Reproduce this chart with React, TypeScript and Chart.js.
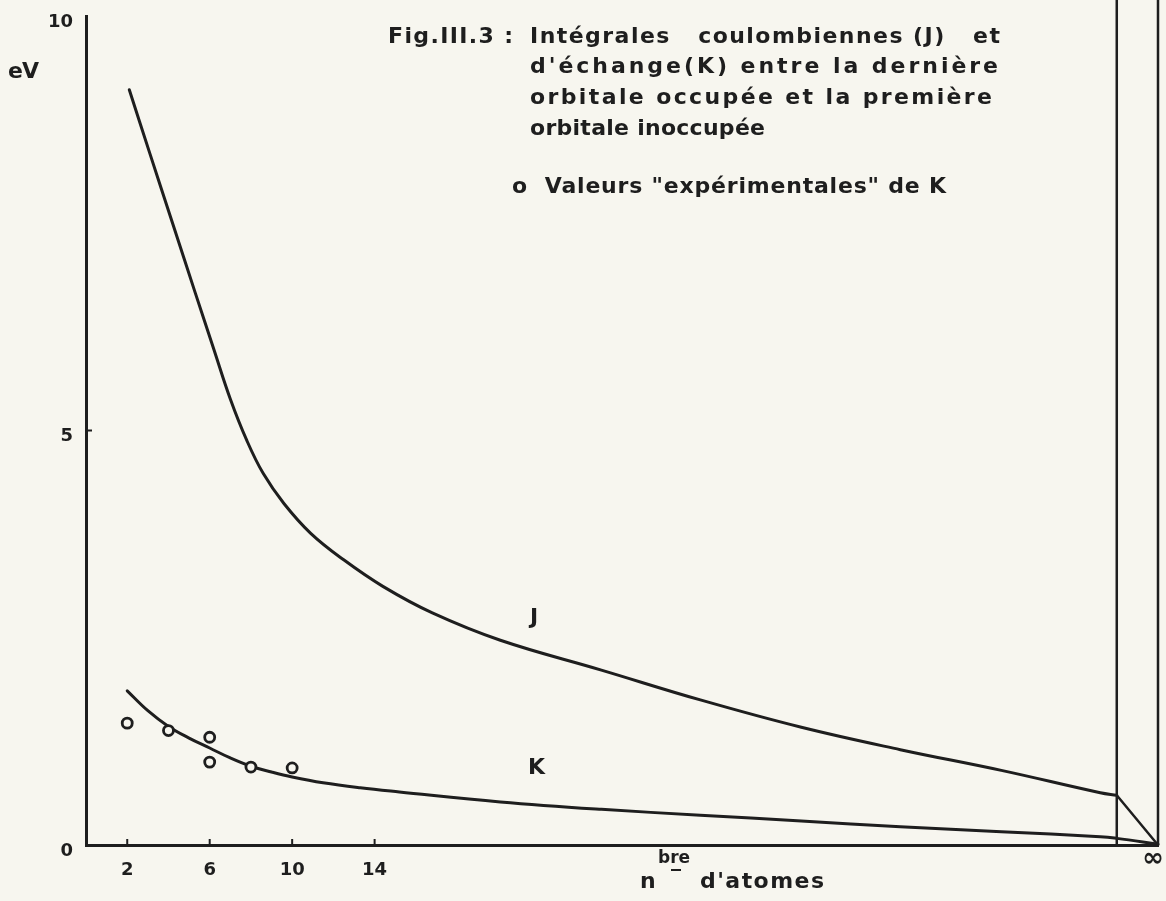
import { useEffect, useRef } from 'react';
import { Chart, registerables } from 'chart.js';

Chart.register(...registerables);

// ---- data (n = nombre d'atomes, values in eV) ----
const J_N = [2.1, 3.1, 4.2, 5.3, 6.2, 7.0, 7.8, 8.6, 9.6, 10.9, 12.5, 14.4, 16.8, 20.1, 25, 29.8, 34.7, 39.5, 44.4, 49.2, 50];
const J_EV = [9.11, 8.34, 7.5, 6.66, 5.98, 5.38, 4.88, 4.48, 4.12, 3.76, 3.44, 3.12, 2.8, 2.47, 2.11, 1.75, 1.42, 1.15, 0.9, 0.63, 0.6];
const J_TAIL_N = [50, 52];
const J_TAIL_EV = [0.6, 0];

const K_N = [2.0, 3.0, 4.0, 5.0, 6.0, 7.0, 8.0, 9.0, 10.0, 11.5, 13.3, 15.2, 20.1, 25, 29.8, 34.7, 39.5, 44.4, 49.2, 50, 52];
const K_EV = [1.86, 1.62, 1.43, 1.29, 1.17, 1.05, 0.95, 0.88, 0.82, 0.75, 0.69, 0.64, 0.52, 0.43, 0.36, 0.29, 0.22, 0.16, 0.1, 0.08, 0.01];

const EXP_N = [2, 4, 6, 6, 8, 10];
const EXP_EV = [1.47, 1.38, 1.3, 1.0, 0.94, 0.93];

const X_TICKS = [2, 6, 10, 14];
const LAST_N = 50;
const INF_N = 52;
const Y_TICKS = [0, 5, 10];
const Y_MAX = 10;
const TOP_EV = 10.25;

const INK = '#1e1e1e';
const PAPER = '#f7f6ef';
const FAMILY = '"DejaVu Sans", "Liberation Sans", sans-serif';

function drawFitted(ctx: any, text: string, x: number, y: number, width: number, size: number) {
  ctx.font = `bold ${size}px ${FAMILY}`;
  ctx.letterSpacing = '0px';
  const w = ctx.measureText(text).width;
  const n = Array.from(text).length;
  const ls = n > 1 ? (width - w) / (n - 1) : 0;
  ctx.letterSpacing = `${ls}px`;
  ctx.fillText(text, x, y);
  ctx.letterSpacing = '0px';
}

const paperPlugin = {
  id: 'paper',
  beforeDraw(chart: any) {
    const { ctx, width, height } = chart;
    ctx.save();
    ctx.fillStyle = PAPER;
    ctx.fillRect(0, 0, width, height);
    ctx.restore();
  },
};

const marksPlugin = {
  id: 'marks',
  afterDatasetsDraw(chart: any) {
    const { ctx } = chart;
    const xs = chart.scales.x;
    const ys = chart.scales.y;
    ctx.save();
    ctx.strokeStyle = INK;
    ctx.lineWidth = 2;
    X_TICKS.forEach((v) => {
      const px = xs.getPixelForValue(v);
      ctx.beginPath();
      ctx.moveTo(px, ys.bottom);
      ctx.lineTo(px, ys.bottom - 6);
      ctx.stroke();
    });
    Y_TICKS.filter((v) => v > 0 && v < Y_MAX).forEach((v) => {
      const py = ys.getPixelForValue(v);
      ctx.beginPath();
      ctx.moveTo(xs.left, py);
      ctx.lineTo(xs.left + 6, py);
      ctx.stroke();
    });
    ctx.restore();
  },
};

const textPlugin = {
  id: 'texts',
  afterDraw(chart: any) {
    const { ctx } = chart;
    const xs = chart.scales.x;
    const ys = chart.scales.y;
    ctx.save();
    ctx.fillStyle = INK;
    ctx.textBaseline = 'middle';
    ctx.textAlign = 'left';
    // title block
    drawFitted(ctx, 'Fig.III.3 :', 388, 37, 125, 22);
    drawFitted(ctx, 'Intégrales   coulombiennes (J)   et', 530, 37, 470, 22);
    drawFitted(ctx, "d'échange(K) entre la dernière", 530, 67, 468, 22);
    drawFitted(ctx, 'orbitale occupée et la première', 530, 98, 462, 22);
    drawFitted(ctx, 'orbitale inoccupée', 530, 129, 235, 22);
    drawFitted(ctx, 'o  Valeurs "expérimentales" de K', 512, 187, 434, 22);
    // axis unit
    drawFitted(ctx, 'eV', 8, 72, 31, 22);
    // curve labels
    drawFitted(ctx, 'J', 530, 618, 12, 22);
    drawFitted(ctx, 'K', 528, 768, 17, 22);
    // infinity label at the right end of the n axis
    ctx.font = `bold 26px ${FAMILY}`;
    ctx.textAlign = 'center';
    ctx.fillText('∞', xs.getPixelForValue(INF_N) - 5, ys.bottom + 14);
    ctx.textAlign = 'left';
    // x axis title: n^bre d'atomes
    drawFitted(ctx, 'n', 640, 882, 15, 22);
    drawFitted(ctx, 'bre', 658, 859, 32, 17);
    ctx.strokeStyle = INK;
    ctx.lineWidth = 2;
    ctx.beginPath();
    ctx.moveTo(671, 870);
    ctx.lineTo(681, 870);
    ctx.stroke();
    drawFitted(ctx, "d'atomes", 700, 882, 124, 22);
    ctx.restore();
  },
};

export default function App() {
  const ref = useRef<HTMLCanvasElement | null>(null);

  useEffect(() => {
    document.body.style.margin = '0';
    document.body.style.background = PAPER;
    const canvas = ref.current;
    if (!canvas) return;

    const lineDs = (label: string, xs: number[], ys: number[], width: number, extra: any = {}) => ({
      label,
      data: xs.map((x, i) => ({ x, y: ys[i] })),
      showLine: true,
      borderColor: INK,
      backgroundColor: INK,
      borderWidth: width,
      pointRadius: 0,
      pointHoverRadius: 0,
      fill: false,
      clip: false,
      tension: 0,
      borderCapStyle: 'round',
      borderJoinStyle: 'round',
      ...extra,
    });

    const chart = new Chart(canvas, {
      type: 'scatter',
      data: {
        datasets: [
          {
            label: 'Valeurs expérimentales de K',
            data: EXP_N.map((x, i) => ({ x, y: EXP_EV[i] })),
            showLine: false,
            pointRadius: 5,
            pointBorderWidth: 2.8,
            pointBackgroundColor: PAPER,
            pointBorderColor: INK,
            clip: false,
          },
          lineDs('J', J_N, J_EV, 3, { tension: 0.4 }),
          lineDs('J tail', J_TAIL_N, J_TAIL_EV, 2.5),
          lineDs('K', K_N, K_EV, 3, { tension: 0.4 }),
          lineDs('last', [LAST_N, LAST_N], [0, TOP_EV], 2.5, { borderCapStyle: 'butt' }),
          lineDs('inf', [INF_N, INF_N], [0, TOP_EV], 2.5, { borderCapStyle: 'butt' }),
        ],
      },
      options: {
        animation: false,
        responsive: false,
        events: [],
        layout: { padding: { top: 16, right: 8, left: 0, bottom: 0 } },
        plugins: { legend: { display: false }, tooltip: { enabled: false }, title: { display: false } },
        scales: {
          x: {
            type: 'linear',
            min: 0,
            max: INF_N,
            grid: { display: false, drawTicks: false },
            border: { display: true, color: INK, width: 3 },
            afterBuildTicks: (s: any) => {
              s.ticks = [...X_TICKS, INF_N].map((v) => ({ value: v }));
            },
            ticks: {
              autoSkip: false,
              maxRotation: 0,
              padding: 15,
              color: INK,
              font: { family: FAMILY, size: 18, weight: 'bold' },
              callback: (v: any) => (v === INF_N ? '' : String(v)),
            },
            afterFit: (s: any) => {
              s.height = 56;
              s.paddingLeft = 0;
              s.paddingRight = 0;
            },
          },
          y: {
            type: 'linear',
            min: 0,
            max: Y_MAX,
            grid: { display: false, drawTicks: false },
            border: { display: true, color: INK, width: 3 },
            afterBuildTicks: (s: any) => {
              s.ticks = Y_TICKS.map((v) => ({ value: v }));
            },
            ticks: {
              autoSkip: false,
              padding: 13,
              labelOffset: 6,
              color: INK,
              font: { family: FAMILY, size: 18, weight: 'bold' },
              callback: (v: any) => String(v),
            },
            afterFit: (s: any) => {
              s.width = 86;
              s.paddingTop = 0;
              s.paddingBottom = 0;
            },
          },
        },
      } as any,
      plugins: [paperPlugin, marksPlugin, textPlugin],
    });

    return () => chart.destroy();
  }, []);

  return (
    <div style={{ width: 1166, height: 901, background: PAPER }}>
      <canvas ref={ref} width={1166} height={901} style={{ display: 'block', width: 1166, height: 901 }} />
    </div>
  );
}
